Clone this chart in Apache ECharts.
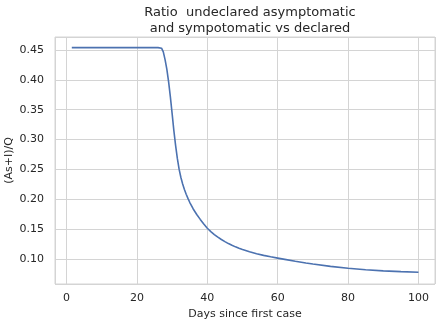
<!DOCTYPE html>
<html>
<head>
<meta charset="utf-8">
<script src="https://cdn.jsdelivr.net/npm/echarts@6/dist/echarts.min.js"></script>
<style>
html,body{margin:0;padding:0;background:#fff;}
#chart{width:440px;height:324px;}
</style>
</head>
<body>
<div id="chart"></div>
<script>
var titleText = "Ratio  undeclared asymptomatic\nand sympotomatic vs declared";
var xAxisName = "Days since first case";
var yAxisName = "(As+I)/Q";
var days = [1.5, 5, 10, 15, 20, 25, 26, 27, 27.5, 28, 28.5, 29, 29.5, 30, 30.5, 31, 31.5, 32, 32.5, 33, 33.5, 34, 34.5, 35, 36, 37, 38, 39, 40, 41, 42, 43, 44, 45, 46, 47, 48, 49, 50, 52, 54, 56, 58, 60, 62, 65, 68, 70, 75, 80, 85, 90, 95, 100];
var ratio = [0.454, 0.454, 0.454, 0.454, 0.454, 0.454, 0.454, 0.453, 0.447, 0.434, 0.418, 0.397, 0.372, 0.344, 0.315, 0.290, 0.268, 0.250, 0.2365, 0.2255, 0.2165, 0.2085, 0.2015, 0.195, 0.1838, 0.1745, 0.1663, 0.1585, 0.1515, 0.1458, 0.1408, 0.1365, 0.1326, 0.1291, 0.1258, 0.1229, 0.1203, 0.1179, 0.1157, 0.1120, 0.1088, 0.1060, 0.1036, 0.1015, 0.0994, 0.0962, 0.0932, 0.0915, 0.0876, 0.0844, 0.0820, 0.0801, 0.0788, 0.0777];

var seriesData = days.map(function(d, i){ return [d, ratio[i]]; });
var textColor = '#262626';
var gridColor = '#d4d4d4';

var chart = echarts.init(document.getElementById('chart'), null, {renderer: 'canvas'});
chart.setOption({
  backgroundColor: '#ffffff',
  animation: false,
  title: {
    text: titleText,
    left: 245,
    textAlign: 'center',
    top: 0,
    textStyle: {fontFamily: 'DejaVu Sans', fontSize: 13, fontWeight: 'normal', color: textColor, lineHeight: 15.5}
  },
  grid: {left: 55, right: 5, top: 37, bottom: 40, show: true, borderColor: gridColor, borderWidth: 1, containLabel: false, outerBoundsMode: 'none'},
  xAxis: {
    type: 'value',
    min: -3.27, max: 104.69,
    splitNumber: 5,
    name: xAxisName,
    nameLocation: 'middle',
    nameGap: 25,
    nameMoveOverlap: false,
    nameTextStyle: {fontFamily: 'DejaVu Sans', fontSize: 11, color: textColor},
    axisLine: {show: false},
    axisTick: {show: false},
    axisLabel: {fontFamily: 'DejaVu Sans', fontSize: 11, color: textColor, margin: 9, showMinLabel: false, showMaxLabel: false},
    splitLine: {show: true, lineStyle: {color: gridColor, width: 1}}
  },
  yAxis: {
    type: 'value',
    min: 0.0581, max: 0.4718,
    splitNumber: 8,
    name: yAxisName,
    nameLocation: 'middle',
    nameRotate: 90,
    nameGap: 40,
    nameMoveOverlap: false,
    nameTextStyle: {fontFamily: 'DejaVu Sans', fontSize: 11, color: textColor},
    axisLine: {show: false},
    axisTick: {show: false},
    axisLabel: {fontFamily: 'DejaVu Sans', fontSize: 11, color: textColor, margin: 11, showMinLabel: false, showMaxLabel: false,
      formatter: function(v){ return v.toFixed(2); }},
    splitLine: {show: true, lineStyle: {color: gridColor, width: 1}}
  },
  series: [{
    type: 'line',
    data: seriesData,
    showSymbol: false,
    smooth: false,
    lineStyle: {color: '#4c72b0', width: 1.6},
    itemStyle: {color: '#4c72b0'}
  }]
});
</script>
</body>
</html>
